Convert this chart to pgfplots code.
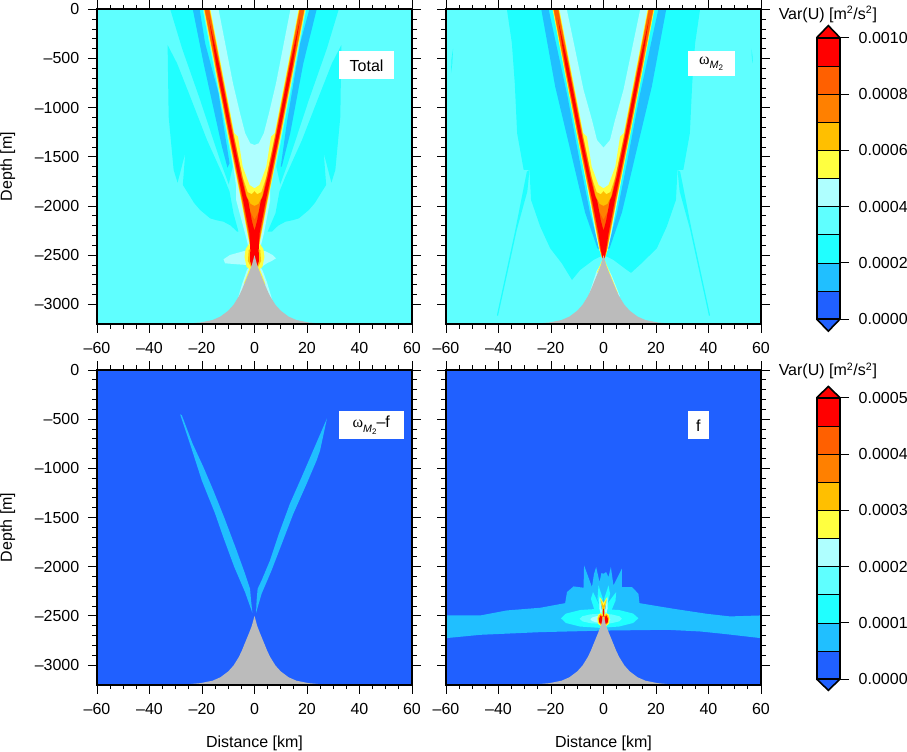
\documentclass[border=0pt]{standalone}
\usepackage{fontspec}
\setmainfont{Liberation Sans}
\newfontfamily\symf{Liberation Serif}
\usepackage{pgfplots}
\usepackage{pgfplotstable}
\pgfplotsset{compat=1.18}

\definecolor{c0}{HTML}{2060FF}
\definecolor{c1}{HTML}{20BFFF}
\definecolor{c2}{HTML}{20FFFF}
\definecolor{c3}{HTML}{5FFFFF}
\definecolor{c4}{HTML}{AFFFFF}
\definecolor{c5}{HTML}{FFFF40}
\definecolor{c6}{HTML}{FFBF00}
\definecolor{c7}{HTML}{FF8000}
\definecolor{c8}{HTML}{FF6000}
\definecolor{c9}{HTML}{FF0000}
\definecolor{rock}{HTML}{BBBBBB}

\newcommand{\ff}{\fontsize{12}{14}\selectfont}
\newcommand{\lev}[2]{\addplot[fill=#1,draw=none] table {#2};}
\newcommand{\omegaM}{{\symf ω}\raisebox{-3.2pt}{\fontsize{8}{8}\selectfont\itshape M}\raisebox{-5pt}{\fontsize{6}{6}\selectfont 2}}

% seamount
\pgfplotstableread[row sep=\\]{x y\\ -29 -3200\\ -25 -3195\\ -20.7 -3185\\ -16 -3160\\ -13 -3125\\ -10 -3065\\ -8 -3006\\ -6 -2920\\ -4.8 -2853\\ -4 -2800\\ -3 -2735\\ -2 -2670\\ -1 -2600\\ 0 -2500\\ 1 -2600\\ 2 -2670\\ 3 -2735\\ 4 -2800\\ 4.8 -2853\\ 6 -2920\\ 8 -3006\\ 10 -3065\\ 13 -3125\\ 16 -3160\\ 20.7 -3185\\ 25 -3195\\ 29 -3200\\}\rock

% beams shared by the two upper panels
\pgfplotstableread[row sep=\\]{x y\\ -19.4 0\\ -15.2 -583\\ -10.3 -1261\\ -5.1 -1946\\ -2.7 -2283\\ -1.5 -2448\\ -0.6 -2530\\ 0.6 -2530\\ 1.5 -2448\\ 2.7 -2283\\ 5.1 -1946\\ 10.3 -1261\\ 15.2 -583\\ 19.4 0\\ 16.8 0\\ 12.6 -583\\ 7.7 -1261\\ 6.3 -1295\\ 4.5 -1600\\ 1.9 -1786\\ 0 -1820\\ -1.9 -1786\\ -4.5 -1600\\ -6.3 -1295\\ -7.7 -1261\\ -12.6 -583\\ -16.8 0\\}\beamA
\pgfplotstableread[row sep=\\]{x y\\ -19.15 0\\ -14.95 -583\\ -10.05 -1261\\ -4.9 -1946\\ -2.5 -2283\\ -1.35 -2448\\ -0.5 -2530\\ 0.5 -2530\\ 1.35 -2448\\ 2.5 -2283\\ 4.9 -1946\\ 10.05 -1261\\ 14.95 -583\\ 19.15 0\\ 17.05 0\\ 12.85 -583\\ 7.95 -1261\\ 4.6 -1700\\ 2.6 -1860\\ 1 -1880\\ 0 -1850\\ -1 -1880\\ -2.6 -1860\\ -4.6 -1700\\ -7.95 -1261\\ -12.85 -583\\ -17.05 0\\}\beamB
\pgfplotstableread[row sep=\\]{x y\\ -19 0\\ -14.8 -583\\ -9.9 -1261\\ -4.75 -1946\\ -2.35 -2283\\ -1.25 -2448\\ -0.45 -2530\\ 0.45 -2530\\ 1.25 -2448\\ 2.35 -2283\\ 4.75 -1946\\ 9.9 -1261\\ 14.8 -583\\ 19 0\\ 17.2 0\\ 13 -583\\ 8.1 -1261\\ 4.6 -1700\\ 3 -1900\\ 1.5 -1980\\ 0 -2000\\ -1.5 -1980\\ -3 -1900\\ -4.6 -1700\\ -8.1 -1261\\ -13 -583\\ -17.2 0\\}\beamC
\pgfplotstableread[row sep=\\]{x y\\ -18.85 0\\ -14.65 -583\\ -9.75 -1261\\ -4.6 -1946\\ -2.2 -2283\\ -1.15 -2448\\ -0.4 -2530\\ 0.4 -2530\\ 1.15 -2448\\ 2.2 -2283\\ 4.6 -1946\\ 9.75 -1261\\ 14.65 -583\\ 18.85 0\\ 17.35 0\\ 13.15 -583\\ 8.25 -1261\\ 4.8 -1700\\ 3.1 -1900\\ 1.8 -2050\\ 0 -2140\\ -1.8 -2050\\ -3.1 -1900\\ -4.8 -1700\\ -8.25 -1261\\ -13.15 -583\\ -17.35 0\\}\beamD
\pgfplotstableread[row sep=\\]{x y\\ -17.4 -90\\ -14.45 -583\\ -9.55 -1261\\ -4.3 -1946\\ -1.9 -2283\\ -1 -2448\\ -0.35 -2530\\ 0.35 -2530\\ 1 -2448\\ 1.9 -2283\\ 4.3 -1946\\ 9.55 -1261\\ 14.45 -583\\ 17.4 -90\\ 13.35 -583\\ 8.45 -1261\\ 5.1 -1700\\ 3.2 -1900\\ 2.4 -1946\\ 1 -2150\\ 0 -2250\\ -1 -2150\\ -2.4 -1946\\ -3.2 -1900\\ -5.1 -1700\\ -8.45 -1261\\ -13.35 -583\\}\beamE

% Total: level 2 wedges
\pgfplotstableread[row sep=\\]{x y\\ -32.1 0\\ -27.6 -397\\ -20.7 -922\\ -12.8 -1560\\ -9.8 -1780\\ -8.3 -1600\\ -10.7 -1261\\ -15.6 -583\\ -19.8 0\\}\totTL
\pgfplotstableread[row sep=\\]{x y\\ 32.1 0\\ 27.6 -397\\ 20.7 -922\\ 12.8 -1560\\ 9.8 -1780\\ 8.3 -1600\\ 10.7 -1261\\ 15.6 -583\\ 19.8 0\\}\totTR
\pgfplotstableread[row sep=\\]{x y\\ -33.1 -363\\ -29.5 -549\\ -24.5 -888\\ -18.1 -1329\\ -11.8 -1702\\ -9.5 -1854\\ -8 -2075\\ -6.1 -2261\\ -6.7 -2261\\ -9 -2200\\ -11.8 -2160\\ -14.5 -2145\\ -16.9 -2126\\ -20.7 -2041\\ -23 -1970\\ -24.5 -1905\\ -27.3 -1786\\ -26.4 -1464\\ -29.3 -1763\\ -30.8 -1634\\ -32.7 -1092\\}\totBL
\pgfplotstableread[row sep=\\]{x y\\ 33.1 -363\\ 29.5 -549\\ 24.5 -888\\ 18.1 -1329\\ 11.8 -1702\\ 9.5 -1854\\ 8 -2075\\ 5 -2261\\ 6.7 -2261\\ 9 -2200\\ 11.8 -2160\\ 14.5 -2145\\ 16.9 -2126\\ 20.7 -2041\\ 23 -1970\\ 24.5 -1905\\ 27.3 -1786\\ 26.4 -1464\\ 29.3 -1763\\ 30.8 -1634\\ 32.7 -1092\\}\totBR
% Total: level 1 bands
\pgfplotstableread[row sep=\\]{x y\\ -23.5 0\\ -20.9 0\\ -18.8 -346\\ -13.7 -854\\ -9.5 -1566\\ -10.3 -1610\\ -12.4 -1397\\ -19.4 -549\\}\totBandL
\pgfplotstableread[row sep=\\]{x y\\ 20.9 0\\ 23.7 0\\ 18.6 -549\\ 13.6 -1261\\ 10.4 -1600\\ 10 -1600\\ 12.3 -1159\\ 17.4 -346\\}\totBandR
% Total: level 4 between the arms, blob and flanks
\pgfplotstableread[row sep=\\]{x y\\ -19 0\\ -14.8 -583\\ -9.9 -1261\\ -7 -1800\\ -7 -1939\\ -3.6 -2278\\ -2 -2450\\ 0 -2515\\ 2 -2450\\ 3.6 -2278\\ 6 -1939\\ 6 -1800\\ 9.9 -1261\\ 14.8 -583\\ 19 0\\ 13.7 0\\ 8.2 -753\\ 5.5 -1058\\ 3.55 -1261\\ 1.65 -1363\\ 0 -1380\\ -1.65 -1363\\ -3.55 -1261\\ -5.5 -1058\\ -8.2 -753\\ -13.7 0\\}\totIn
\pgfplotstableread[row sep=\\]{x y\\ -11.8 -2542\\ -9.3 -2498\\ -3.9 -2458\\ 4 -2458\\ 7 -2500\\ 8.2 -2532\\ 6.5 -2560\\ 4.7 -2583\\ 2.8 -2617\\ -2.9 -2600\\ -6.7 -2593\\ -11.2 -2583\\}\totBlob
\pgfplotstableread[row sep=\\]{x y\\ -1.5 -2600\\ -2.9 -2651\\ -4.8 -2800\\ -6.2 -2930\\ 6.8 -2960\\ 4.8 -2780\\ 3 -2651\\ 1.5 -2600\\}\totFlank
\pgfplotstableread[row sep=\\]{x y\\ -3.4 -2440\\ -3.8 -2520\\ -3 -2620\\ -2 -2640\\ -3.1 -2720\\ -4.1 -2790\\ 4.2 -2800\\ 3.2 -2720\\ 2 -2640\\ 3 -2620\\ 3.8 -2520\\ 3.4 -2440\\ 0 -2300\\}\totY
\pgfplotstableread[row sep=\\]{x y\\ -2.2 -2450\\ -2.5 -2560\\ -1 -2640\\ 1 -2640\\ 2.5 -2560\\ 2.2 -2450\\ 0 -2400\\}\totO
\pgfplotstableread[row sep=\\]{x y\\ -1.9 -2283\\ -1.6 -2448\\ -1.7 -2560\\ -0.6 -2650\\ 0.6 -2650\\ 1.7 -2560\\ 1.6 -2448\\ 1.9 -2283\\}\totR

% omega_M2: level 2 regions
\pgfplotstableread[row sep=\\]{x y\\ -36.8 0\\ -34.9 -346\\ -33.8 -753\\ -32.9 -1261\\ -30.4 -1634\\ -28.2 -1634\\ -27.6 -1939\\ -24.1 -2210\\ -20.3 -2431\\ -15.9 -2583\\ -12 -2753\\ -8.9 -2651\\ -3.8 -2549\\ -1.3 -2515\\ 0 -2515\\ -1.65 -2278\\ -4.2 -1939\\ -9 -1261\\ -13.9 -583\\ -18.1 0\\}\omL
\pgfplotstableread[row sep=\\]{x y\\ 36.8 0\\ 34.9 -346\\ 33.8 -753\\ 32.9 -1261\\ 30.4 -1634\\ 28.2 -1634\\ 27.6 -1939\\ 24.1 -2210\\ 20.3 -2431\\ 14.5 -2583\\ 10.5 -2680\\ 8.9 -2651\\ 3.8 -2549\\ 1.3 -2515\\ 0 -2515\\ 1.65 -2278\\ 4.2 -1939\\ 9 -1261\\ 13.9 -583\\ 18.1 0\\}\omR
\pgfplotstableread[row sep=\\]{x y\\ -28.2 -1634\\ -29.2 -1650\\ -33.6 -2244\\ -40.6 -3110\\ -40.2 -3120\\ -33 -2240\\ -29 -1850\\}\omStripeL
\pgfplotstableread[row sep=\\]{x y\\ 28.2 -1634\\ 29.2 -1650\\ 33.6 -2244\\ 40.6 -3110\\ 40.2 -3120\\ 33 -2240\\ 29 -1850\\}\omStripeR
\pgfplotstableread[row sep=\\]{x y\\ -57.3 -400\\ -57.9 -500\\ -58.1 -650\\ -57.6 -550\\}\omDotL
\pgfplotstableread[row sep=\\]{x y\\ 56.4 -400\\ 56.8 -480\\ 56.9 -550\\ 56.5 -500\\}\omDotR
\pgfplotstableread[row sep=\\]{x y\\ -23.7 0\\ -18.4 -786\\ -12.7 -1424\\ -7 -2068\\ -2.3 -2431\\ -1.5 -2440\\ -5.1 -2075\\ -8.9 -1566\\ -13.7 -888\\ -20.9 0\\}\omBandL
\pgfplotstableread[row sep=\\]{x y\\ 23.9 0\\ 18.4 -786\\ 12.7 -1424\\ 7 -2068\\ 2.3 -2431\\ 1.5 -2440\\ 5.1 -2075\\ 8.9 -1566\\ 13.7 -888\\ 20.9 0\\}\omBandR
\pgfplotstableread[row sep=\\]{x y\\ -19 0\\ -14.9 -583\\ -10 -1261\\ -5.4 -1939\\ -3 -2278\\ -1.6 -2450\\ 0 -2515\\ 1.6 -2450\\ 3 -2278\\ 5.4 -1939\\ 10 -1261\\ 14.9 -583\\ 19 0\\ 14 0\\ 7.6 -820\\ 4.4 -1125\\ 2.5 -1329\\ 0 -1407\\ -2.5 -1329\\ -4.4 -1125\\ -7.6 -820\\ -14 0\\}\omIn
\pgfplotstableread[row sep=\\]{x y\\ -1 -2600\\ -2.6 -2660\\ -5.5 -2900\\ 6.3 -2920\\ 3 -2700\\ 1 -2600\\}\omFlank
\pgfplotstableread[row sep=\\]{x y\\ 0.3 -2540\\ 2.4 -2680\\ 5.5 -2888\\ 5 -2888\\ 0 -2560\\ -2.4 -2680\\ -2.6 -2680\\ -0.3 -2540\\}\omY

% omega_M2 - f
\pgfplotstableread[row sep=\\]{x y\\ -28.3 -452\\ -24.6 -748\\ -20.1 -1121\\ -15 -1461\\ -11.9 -1699\\ -7.7 -2004\\ -3.6 -2259\\ -0.8 -2470\\ -1.3 -2344\\ -1.7 -2225\\ -3.6 -2072\\ -6.8 -1835\\ -11.6 -1495\\ -15.7 -1223\\ -19.5 -985\\ -23.6 -748\\ -27.7 -460\\}\difL
\pgfplotstableread[row sep=\\]{x y\\ 27.6 -493\\ 25 -816\\ 23.7 -917\\ 19.9 -1155\\ 14.8 -1461\\ 10.4 -1767\\ 6.5 -2038\\ 2.7 -2276\\ 0.6 -2470\\ 0.8 -2344\\ 1.2 -2225\\ 2.7 -2140\\ 5.9 -1937\\ 9.3 -1665\\ 13.5 -1359\\ 18 -1087\\ 22.4 -815\\}\difR

% f
\pgfplotstableread[row sep=\\]{x y\\ -60 -2496\\ -46.9 -2496\\ -36.8 -2445\\ -24.1 -2418\\ -14.6 -2371\\ -13.9 -2258\\ -11.4 -2201\\ -7.6 -2214\\ -7.4 -1987\\ -4.4 -2207\\ -3.6 -2072\\ -2.8 -2004\\ -1.5 -2157\\ -0.8 -2065\\ 0 -2072\\ 1 -2055\\ 1.9 -2106\\ 2.8 -2004\\ 3.8 -2190\\ 7 -2021\\ 7 -2207\\ 10.8 -2207\\ 13.3 -2275\\ 13.7 -2371\\ 26.6 -2428\\ 39.3 -2479\\ 48.2 -2506\\ 60 -2496\\ 60 -2727\\ 45.6 -2683\\ 36.8 -2659\\ 24.1 -2642\\ 0 -2650\\ -8.9 -2656\\ -24.1 -2666\\ -46.9 -2693\\ -60 -2727\\}\fBand
\pgfplotstableread[row sep=\\]{x y\\ -16.2 -2525\\ -14.3 -2477\\ -8.9 -2441\\ -1.5 -2428\\ 5.9 -2441\\ 11.3 -2477\\ 13.3 -2525\\ 11.3 -2573\\ 5.9 -2609\\ -1.5 -2622\\ -8.9 -2609\\ -14.3 -2573\\}\fEll
\pgfplotstableread[row sep=\\]{x y\\ -4.8 -2327\\ -4 -2259\\ -1.5 -2395\\ -1.3 -2480\\ -3.2 -2462\\}\fLeafA
\pgfplotstableread[row sep=\\]{x y\\ -1.9 -2191\\ -0.25 -2327\\ -1.3 -2411\\ -2.3 -2327\\}\fLeafB
\pgfplotstableread[row sep=\\]{x y\\ 1.9 -2191\\ 2.5 -2276\\ 1.3 -2411\\ 0.25 -2327\\}\fLeafC
\pgfplotstableread[row sep=\\]{x y\\ 4.8 -2259\\ 4.6 -2344\\ 2.5 -2480\\ 1 -2462\\ 1.9 -2361\\}\fLeafD
\pgfplotstableread[row sep=\\]{x y\\ -9.1 -2530\\ -8 -2504\\ -5 -2485\\ -1 -2478\\ 3 -2485\\ 6 -2504\\ 7 -2530\\ 6 -2556\\ 3 -2575\\ -1 -2582\\ -5 -2575\\ -8 -2556\\}\fEllB
\pgfplotstableread[row sep=\\]{x y\\ -5 -2535\\ -4.3 -2517\\ -2.9 -2505\\ -1.2 -2498\\ 0.5 -2505\\ 1.9 -2517\\ 2.6 -2535\\ 1.9 -2553\\ 0.5 -2565\\ -1.2 -2572\\ -2.9 -2565\\ -4.3 -2553\\}\fEllC
\pgfplotstableread[row sep=\\]{x y\\ -1.6 -2300\\ -0.6 -2450\\ -0.9 -2500\\ -1.6 -2420\\}\fPlumeL
\pgfplotstableread[row sep=\\]{x y\\ 1.6 -2300\\ 0.6 -2450\\ 0.9 -2500\\ 1.6 -2420\\}\fPlumeR
\pgfplotstableread[row sep=\\]{x y\\ -1.4 -2310\\ -0.6 -2340\\ 0 -2370\\ 0.6 -2340\\ 1.4 -2310\\ 0.9 -2380\\ 0.35 -2440\\ 0.5 -2500\\ -0.5 -2500\\ -0.35 -2440\\ -0.9 -2380\\}\fYY
\pgfplotstableread[row sep=\\]{x y\\ -1 -2340\\ 0 -2400\\ 1 -2340\\ 0.4 -2420\\ 0.25 -2500\\ -0.25 -2500\\ -0.4 -2420\\}\fYO
\pgfplotstableread[row sep=\\]{x y\\ -0.15 -2430\\ 0.15 -2430\\ 0.3 -2510\\ -0.3 -2510\\}\fStem
\pgfplotstableread[row sep=\\]{x y\\ -2.4 -2530\\ -2 -2490\\ -1.1 -2470\\ -0.4 -2490\\ 0.4 -2490\\ 1.1 -2470\\ 2 -2490\\ 2.4 -2530\\ 2.1 -2580\\ 1 -2605\\ -1 -2605\\ -2.1 -2580\\}\fBaseY
\pgfplotstableread[row sep=\\]{x y\\ -2.1 -2530\\ -1.7 -2497\\ -1 -2482\\ -0.4 -2500\\ 0.4 -2500\\ 1 -2482\\ 1.7 -2497\\ 2.1 -2530\\ 1.8 -2572\\ 0.9 -2595\\ -0.9 -2595\\ -1.8 -2572\\}\fBaseO
\pgfplotstableread[row sep=\\]{x y\\ -1.7 -2530\\ -1.1 -2495\\ -0.6 -2510\\ -0.3 -2590\\ -1.6 -2570\\}\fRedL
\pgfplotstableread[row sep=\\]{x y\\ 1.7 -2530\\ 1.1 -2495\\ 0.6 -2510\\ 0.3 -2590\\ 1.6 -2570\\}\fRedR

\pgfplotsset{
  panel/.style={
    scale only axis,
    width=236.25pt,
    height=236pt,
    xmin=-60, xmax=60,
    ymin=-3200, ymax=0,
    xtick={-60,-40,-20,0,20,40,60},
    xticklabels={–60,–40,–20,0,20,40,60},
    ytick={-3000,-2500,-2000,-1500,-1000,-500,0},
    minor x tick num=3,
    minor y tick num=4,
    tick align=outside,
    major tick length=6.75pt,
    minor tick length=3.4pt,
    every tick/.style={black,line width=0.6pt},
    axis line style={line width=1.5pt},
    axis on top,
    tick label style={font=\ff},
    label style={font=\ff},
    xticklabel shift=3.5pt,
    yticklabel shift=3pt,
  },
  leftpanel/.style={
    panel,
    yticklabels={–3000,–2500,–2000,–1500,–1000,–500,0},
    ylabel={Depth [m]},
    ylabel style={at={(axis description cs:-0.283,0.5)},anchor=center,rotate=0},
  },
  rightpanel/.style={panel,yticklabels={}},
  xlab/.style={
    xlabel={Distance [km]},
    xlabel style={at={(axis description cs:0.5,-0.188)},anchor=center},
  },
  cbar/.style={
    scale only axis,
    width=17.5pt,
    height=211pt,
    xmin=0, xmax=1,
    xtick=\empty,
    ytick pos=right,
    yticklabel pos=right,
    tick align=outside,
    major tick length=6.75pt,
    every tick/.style={black,line width=0.6pt},
    axis line style={line width=1.5pt},
    axis on top,
    clip=false,
    scaled y ticks=false,
    tick label style={font=\ff},
    yticklabel shift=3.75pt,
    title={Var(U) [m\textsuperscript{2}/s\textsuperscript{2}]},
  },
  seg/.style={fill=#1,draw=black,line width=0.3pt},
}

\begin{document}
\begin{tikzpicture}
\path[use as bounding box] (0,0) rectangle (680.25pt,-564pt);

% Total
\begin{axis}[leftpanel,at={(72.75pt,-6.98pt)},anchor=north west,axis background/.style={fill=c3}]
  \lev{c2}{\totTL}
  \lev{c2}{\totTR}
  \lev{c2}{\totBL}
  \lev{c2}{\totBR}
  \lev{c1}{\totBandL}
  \lev{c1}{\totBandR}
  \lev{c4}{\totIn}
  \lev{c4}{\totBlob}
  \lev{c4}{\totFlank}
  \lev{c5}{\beamA}
  \lev{c5}{\totY}
  \lev{c6}{\beamB}
  \lev{c6}{\totO}
  \lev{c7}{\beamC}
  \lev{c8}{\beamD}
  \lev{c9}{\beamE}
  \lev{c9}{\totR}
  \lev{rock}{\rock}
  \node[fill=white,inner sep=0pt,minimum width=41.25pt,minimum height=21pt,font=\ff] at (axis cs:42.7,-571) {Total};
\end{axis}

% omega_M2
\begin{axis}[rightpanel,at={(334.5pt,-6.98pt)},anchor=north west,axis background/.style={fill=c3}]
  \lev{c2}{\omL}
  \lev{c2}{\omR}
  \lev{c2}{\omStripeL}
  \lev{c2}{\omStripeR}
  \lev{c2}{\omDotL}
  \lev{c2}{\omDotR}
  \lev{c1}{\omBandL}
  \lev{c1}{\omBandR}
  \lev{c4}{\omIn}
  \lev{c4}{\omFlank}
  \lev{c5}{\omY}
  \lev{c5}{\beamA}
  \lev{c6}{\beamB}
  \lev{c7}{\beamC}
  \lev{c8}{\beamD}
  \lev{c9}{\beamE}
  \lev{rock}{\rock}
  \node[fill=white,inner sep=0pt,minimum width=35.25pt,minimum height=18.75pt,font=\ff] at (axis cs:41,-555) {\omegaM};
\end{axis}

% omega_M2 - f
\begin{axis}[leftpanel,xlab,at={(72.75pt,-277.5pt)},anchor=north west,axis background/.style={fill=c0}]
  \lev{c1}{\difL}
  \lev{c1}{\difR}
  \lev{rock}{\rock}
  \node[fill=white,inner sep=0pt,minimum width=48.75pt,minimum height=21pt,font=\ff] at (axis cs:44.5,-563) {\omegaM–f};
\end{axis}

% f
\begin{axis}[rightpanel,xlab,at={(334.5pt,-277.5pt)},anchor=north west,axis background/.style={fill=c0}]
  \lev{c1}{\fBand}
  \lev{c2}{\fEll}
  \lev{c2}{\fLeafA}
  \lev{c2}{\fLeafB}
  \lev{c2}{\fLeafC}
  \lev{c2}{\fLeafD}
  \lev{c3}{\fEllB}
  \lev{c4}{\fEllC}
  \lev{c4}{\fPlumeL}
  \lev{c4}{\fPlumeR}
  \lev{c5}{\fYY}
  \lev{c5}{\fBaseY}
  \lev{c6}{\fYO}
  \lev{c6}{\fBaseO}
  \lev{c9}{\fStem}
  \lev{c9}{\fRedL}
  \lev{c9}{\fRedR}
  \lev{rock}{\rock}
  \node[fill=white,inner sep=0pt,minimum width=15.75pt,minimum height=21pt,font=\ff] at (axis cs:36.1,-563) {f};
\end{axis}

% colour bar, upper row
\begin{axis}[cbar,at={(612.5pt,-28.3pt)},anchor=north west,
  title style={font=\ff,at={(axis description cs:0.48,1.053)},anchor=center},
  ymin=0,ymax=0.001,
  ytick={0,0.0002,0.0004,0.0006,0.0008,0.001},
  yticklabels={0.0000,0.0002,0.0004,0.0006,0.0008,0.0010}]
  \addplot[seg=c0] coordinates {(0,0) (1,0) (1,0.0001) (0,0.0001)} --cycle;
  \addplot[seg=c1] coordinates {(0,0.0001) (1,0.0001) (1,0.0002) (0,0.0002)} --cycle;
  \addplot[seg=c2] coordinates {(0,0.0002) (1,0.0002) (1,0.0003) (0,0.0003)} --cycle;
  \addplot[seg=c3] coordinates {(0,0.0003) (1,0.0003) (1,0.0004) (0,0.0004)} --cycle;
  \addplot[seg=c4] coordinates {(0,0.0004) (1,0.0004) (1,0.0005) (0,0.0005)} --cycle;
  \addplot[seg=c5] coordinates {(0,0.0005) (1,0.0005) (1,0.0006) (0,0.0006)} --cycle;
  \addplot[seg=c6] coordinates {(0,0.0006) (1,0.0006) (1,0.0007) (0,0.0007)} --cycle;
  \addplot[seg=c7] coordinates {(0,0.0007) (1,0.0007) (1,0.0008) (0,0.0008)} --cycle;
  \addplot[seg=c8] coordinates {(0,0.0008) (1,0.0008) (1,0.0009) (0,0.0009)} --cycle;
  \addplot[seg=c9] coordinates {(0,0.0009) (1,0.0009) (1,0.001) (0,0.001)} --cycle;
  \addplot[fill=c9,draw=black,line width=1.2pt] coordinates {(0,0.001) (0.5,0.001043) (1,0.001)};
  \addplot[fill=c0,draw=black,line width=1.2pt] coordinates {(0,0) (0.5,-0.000043) (1,0)};
\end{axis}

% colour bar, lower row
\begin{axis}[cbar,at={(612.5pt,-298.3pt)},anchor=north west,
  title style={font=\ff,at={(axis description cs:0.48,1.067)},anchor=center},
  ymin=0,ymax=0.0005,
  ytick={0,0.0001,0.0002,0.0003,0.0004,0.0005},
  yticklabels={0.0000,0.0001,0.0002,0.0003,0.0004,0.0005}]
  \addplot[seg=c0] coordinates {(0,0) (1,0) (1,0.00005) (0,0.00005)} --cycle;
  \addplot[seg=c1] coordinates {(0,0.00005) (1,0.00005) (1,0.0001) (0,0.0001)} --cycle;
  \addplot[seg=c2] coordinates {(0,0.0001) (1,0.0001) (1,0.00015) (0,0.00015)} --cycle;
  \addplot[seg=c3] coordinates {(0,0.00015) (1,0.00015) (1,0.0002) (0,0.0002)} --cycle;
  \addplot[seg=c4] coordinates {(0,0.0002) (1,0.0002) (1,0.00025) (0,0.00025)} --cycle;
  \addplot[seg=c5] coordinates {(0,0.00025) (1,0.00025) (1,0.0003) (0,0.0003)} --cycle;
  \addplot[seg=c6] coordinates {(0,0.0003) (1,0.0003) (1,0.00035) (0,0.00035)} --cycle;
  \addplot[seg=c7] coordinates {(0,0.00035) (1,0.00035) (1,0.0004) (0,0.0004)} --cycle;
  \addplot[seg=c8] coordinates {(0,0.0004) (1,0.0004) (1,0.00045) (0,0.00045)} --cycle;
  \addplot[seg=c9] coordinates {(0,0.00045) (1,0.00045) (1,0.0005) (0,0.0005)} --cycle;
  \addplot[fill=c9,draw=black,line width=1.2pt] coordinates {(0,0.0005) (0.5,0.00052) (1,0.0005)};
  \addplot[fill=c0,draw=black,line width=1.2pt] coordinates {(0,0) (0.5,-0.00002) (1,0)};
\end{axis}
\end{tikzpicture}
\end{document}
